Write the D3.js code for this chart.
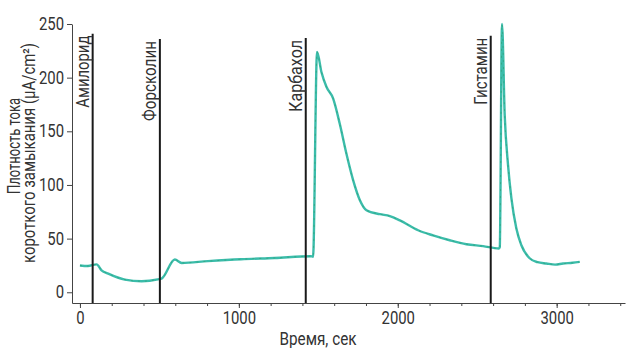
<!DOCTYPE html>
<html>
<head>
<meta charset="utf-8">
<script src="https://cdn.jsdelivr.net/npm/d3@7"></script>
<style>
  body { margin: 0; background: #fff; }
  svg text { font-family: "Roboto", "Liberation Sans", sans-serif; fill: #333; }
</style>
</head>
<body>
<div id="chart"></div>
<script>
// time, s
const times = [0, 50, 105, 136, 178, 283, 388, 490, 516, 597, 640, 805, 1015, 1225, 1455, 1467,
  1492, 1520, 1551, 1593, 1635, 1677, 1719, 1761, 1803, 1887, 1950, 2013, 2128, 2222, 2327, 2432,
  2537, 2637, 2642, 2656, 2673, 2694, 2715, 2746, 2778, 2830, 2880, 2935, 2990, 3040, 3100, 3145];
// short-circuit current density, µA/cm²
const current = [25, 24.5, 26, 20.5, 17.4, 11.8, 10.3, 12, 13, 30.5, 27.3, 29, 30.8, 32, 33.6, 33,
  224, 205, 191.5, 180.7, 157, 129, 104.5, 86, 76.5, 72.8, 71, 67, 57.8, 53, 48.5, 44.8,
  43, 40.8, 42, 250, 165, 118.5, 87.7, 59.7, 43.8, 31.7, 28, 26.8, 25.8, 26.8, 27.5, 28.3];

const eventNames = ['Амилорид', 'Форсколин', 'Карбахол', 'Гистамин'];
const eventTimes = [80, 503, 1421, 2585];
const eventTops = [241, 236, 237, 239];

const xTicks = [0, 1000, 2000, 3000];
const yTicks = [0, 50, 100, 150, 200, 250];

const width = 626;
const height = 348;
const narrow = 0.85; // the original uses a condensed face

const x = d3.scaleLinear().domain([-50, 3430]).range([72, 625]);
const y = d3.scaleLinear().domain([-10, 250]).range([303, 24]);

const svg = d3.select('#chart')
  .append('svg')
  .attr('width', width)
  .attr('height', height);

// squeeze text horizontally, either by the narrow factor or to a given length
function condense(sel, len) {
  sel.each(function () {
    const w = len || this.getComputedTextLength() * narrow;
    d3.select(this).attr('textLength', w).attr('lengthAdjust', 'spacingAndGlyphs');
  });
}

// minor x ticks
svg.append('g')
  .attr('transform', `translate(0,${y(-10)})`)
  .call(d3.axisBottom(x).tickValues(d3.range(0, 3401, 200)).tickSize(3).tickFormat(''))
  .call((g) => g.select('.domain').remove())
  .call((g) => g.selectAll('line').attr('stroke', '#444'));

const xAxis = svg.append('g')
  .attr('transform', `translate(0,${y(-10)})`)
  .call(d3.axisBottom(x).tickValues(xTicks).tickSize(5).tickSizeOuter(0).tickPadding(4).tickFormat(d3.format('d')));
xAxis.select('.domain').attr('stroke', '#444');
xAxis.selectAll('line').attr('stroke', '#444');
xAxis.selectAll('text').attr('font-size', 17.5).attr('fill', '#333').call(condense);

const yAxis = svg.append('g')
  .attr('transform', `translate(${x(-50)},0)`)
  .call(d3.axisLeft(y).tickValues(yTicks).tickSize(5).tickSizeOuter(0).tickPadding(3));
yAxis.select('.domain').attr('stroke', '#444');
yAxis.selectAll('line').attr('stroke', '#444');
yAxis.selectAll('text').attr('font-size', 17.5).attr('fill', '#333').call(condense);

svg.append('text')
  .attr('x', 318)
  .attr('y', 345)
  .attr('text-anchor', 'middle')
  .attr('font-size', 17.5)
  .text('Время, сек')
  .call(condense, 77);

svg.append('text')
  .attr('transform', 'translate(20,146) rotate(-90)')
  .attr('text-anchor', 'middle')
  .attr('font-size', 17.5)
  .text('Плотность тока')
  .call(condense, 96);

svg.append('text')
  .attr('transform', 'translate(35,153) rotate(-90)')
  .attr('text-anchor', 'middle')
  .attr('font-size', 17.5)
  .text('короткого замыкания (μA/cm²)')
  .call(condense, 220);

// trace
const points = times.map((t, i) => [t, current[i]]);
const line = d3.line()
  .x((d) => x(d[0]))
  .y((d) => y(d[1]))
  .curve(d3.curveMonotoneX);

svg.append('path')
  .datum(points)
  .attr('d', line)
  .attr('fill', 'none')
  .attr('stroke', '#3bbcaa')
  .attr('stroke-width', 2.4)
  .attr('stroke-linejoin', 'round');

svg.append('path')
  .datum(points)
  .attr('d', line)
  .attr('fill', 'none')
  .attr('stroke', '#2a9a6a')
  .attr('stroke-width', 0.8)
  .attr('stroke-dasharray', '2 5')
  .attr('opacity', 0.7);

// drug addition markers
const labelLengths = [72, 80, 72, 67];
const events = svg.append('g');
eventTimes.forEach((t, i) => {
  events.append('line')
    .attr('x1', x(t))
    .attr('x2', x(t))
    .attr('y1', y(eventTops[i]))
    .attr('y2', y(-10))
    .attr('stroke', '#1a1a1a')
    .attr('stroke-width', 2);

  events.append('text')
    .attr('transform', `translate(${x(t) - 4},${y(eventTops[i]) + 2}) rotate(-90)`)
    .attr('text-anchor', 'end')
    .attr('font-size', 18)
    .text(eventNames[i])
    .call(condense, labelLengths[i]);
});
</script>
</body>
</html>
